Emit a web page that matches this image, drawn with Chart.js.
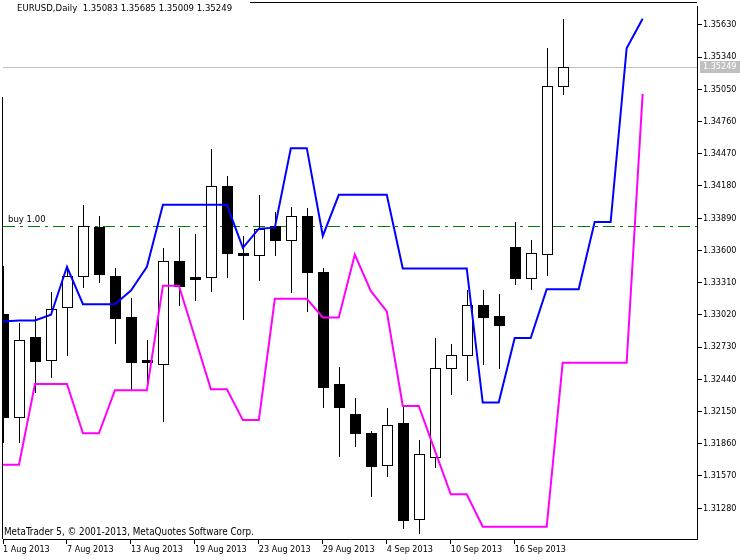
<!DOCTYPE html>
<html>
<head>
<meta charset="utf-8">
<script src="https://cdn.jsdelivr.net/npm/chart.js@4.4.0/dist/chart.umd.min.js"></script>
<style>
  html, body { margin: 0; padding: 0; background: #fff; }
  #wrap { width: 750px; height: 560px; }
</style>
</head>
<body>
<div id="wrap"><canvas id="chart" width="750" height="560"></canvas></div>
<script>
// EURUSD daily bars, 1 Aug - 19 Sep 2013
var dates = ['1 Aug 2013','2 Aug 2013','5 Aug 2013','6 Aug 2013','7 Aug 2013','8 Aug 2013','9 Aug 2013',
  '12 Aug 2013','13 Aug 2013','14 Aug 2013','15 Aug 2013','16 Aug 2013','19 Aug 2013','20 Aug 2013',
  '21 Aug 2013','22 Aug 2013','23 Aug 2013','26 Aug 2013','27 Aug 2013','28 Aug 2013','29 Aug 2013',
  '30 Aug 2013','2 Sep 2013','3 Sep 2013','4 Sep 2013','5 Sep 2013','6 Sep 2013','9 Sep 2013',
  '10 Sep 2013','11 Sep 2013','12 Sep 2013','13 Sep 2013','16 Sep 2013','17 Sep 2013','18 Sep 2013','19 Sep 2013'];

var open  = [1.33024, 1.32097, 1.32818, 1.32617, 1.33087, 1.33370, 1.33811, 1.33373, 1.32997, 1.32613,
             1.32574, 1.33504, 1.33364, 1.33358, 1.34178, 1.33574, 1.33558, 1.33820, 1.33697, 1.33909,
             1.33409, 1.32395, 1.32127, 1.31960, 1.31671, 1.32047, 1.31185, 1.31745, 1.32538, 1.32655,
             1.33111, 1.33006, 1.33632, 1.33349, 1.33572, 1.35083];
var high  = [1.33460, 1.32946, 1.33006, 1.33230, 1.33462, 1.34010, 1.33909, 1.33444, 1.33176, 1.32798,
             1.33623, 1.33802, 1.33751, 1.34517, 1.34273, 1.33730, 1.34100, 1.33945, 1.33990, 1.33981,
             1.33438, 1.32550, 1.32273, 1.31978, 1.32183, 1.32192, 1.31897, 1.32809, 1.32762, 1.33245,
             1.33245, 1.33209, 1.33856, 1.33695, 1.35420, 1.35685];
var low   = [1.31880, 1.31879, 1.32327, 1.32461, 1.32655, 1.33274, 1.33319, 1.32767, 1.32344, 1.32395,
             1.32061, 1.33113, 1.33155, 1.33236, 1.33358, 1.32986, 1.33334, 1.33563, 1.33230, 1.33051,
             1.32195, 1.31748, 1.31837, 1.31390, 1.31569, 1.31104, 1.31054, 1.31650, 1.32306, 1.32434,
             1.32580, 1.32544, 1.33295, 1.33250, 1.33375, 1.35009];
var close = [1.32097, 1.32798, 1.32604, 1.33075, 1.33370, 1.33817, 1.33384, 1.32991, 1.32597, 1.32595,
             1.33504, 1.33281, 1.33346, 1.34178, 1.33581, 1.33561, 1.33796, 1.33697, 1.33907, 1.33402,
             1.32374, 1.32195, 1.31954, 1.31659, 1.32029, 1.31176, 1.31769, 1.32538, 1.32655, 1.33111,
             1.33000, 1.32928, 1.33349, 1.33578, 1.35080, 1.35249];

// channel indicator, shifted 5 bars forward
var upper = [1.32961, 1.32970, 1.32970, 1.33021, 1.33453, 1.33116, 1.33116, 1.33116, 1.33239, 1.33453,
             1.34010, 1.34010, 1.34010, 1.34010, 1.34010, 1.33623, 1.33796, 1.33805, 1.34520, 1.34520,
             1.33730, 1.34100, 1.34100, 1.34100, 1.34100, 1.33438, 1.33438, 1.33438, 1.33438, 1.33438,
             1.32231, 1.32231, 1.32812, 1.32812, 1.33250, 1.33250, 1.33250, 1.33856, 1.33856, 1.35420, 1.35685];
var lower = [1.31671, 1.31671, 1.32398, 1.32398, 1.32398, 1.31954, 1.31954, 1.32342, 1.32342, 1.32342,
             1.33283, 1.33283, 1.32818, 1.32351, 1.32351, 1.32073, 1.32073, 1.33164, 1.33164, 1.33164,
             1.32997, 1.32997, 1.33563, 1.33236, 1.33051, 1.32201, 1.32201, 1.31803, 1.31406, 1.31406,
             1.31113, 1.31113, 1.31113, 1.31113, 1.31113, 1.32589, 1.32589, 1.32589, 1.32589, 1.32589, 1.35009];

var yTicks = [1.31280, 1.31570, 1.31860, 1.32150, 1.32440, 1.32730, 1.33020, 1.33310,
              1.33600, 1.33890, 1.34180, 1.34470, 1.34760, 1.35050, 1.35340, 1.35630];
var buyPrice = 1.33820;
var lastPrice = 1.35249;

var FONT = '"DejaVu Sans Condensed", "DejaVu Sans", sans-serif';
var FSIZE = 9;

function toPoints(arr){
  return arr.map(function(v, i){ return {x: i, y: v}; });
}

// candles, price levels and the MT5 frame
var mt5Plugin = {
  id: 'mt5',
  beforeDatasetsDraw: function(chart){
    var ctx = chart.ctx, a = chart.chartArea;
    var xs = chart.scales.x, ys = chart.scales.y;
    ctx.save();
    ctx.beginPath();
    ctx.rect(a.left, a.top, a.right - a.left, a.bottom - a.top);
    ctx.clip();

    // last price line
    var yl = Math.round(ys.getPixelForValue(lastPrice)) + 0.5;
    ctx.strokeStyle = '#c0c0c0';
    ctx.lineWidth = 1;
    ctx.beginPath(); ctx.moveTo(a.left, yl); ctx.lineTo(a.right, yl); ctx.stroke();

    // buy level
    var yb = Math.round(ys.getPixelForValue(buyPrice)) + 0.5;
    ctx.strokeStyle = '#008000';
    ctx.setLineDash([12, 5, 3, 5]);
    ctx.beginPath(); ctx.moveTo(a.left, yb); ctx.lineTo(a.right, yb); ctx.stroke();
    ctx.setLineDash([]);

    for(var i = 0; i < open.length; i++){
      var cx = Math.round(xs.getPixelForValue(i));
      var yo = Math.round(ys.getPixelForValue(open[i]));
      var yc = Math.round(ys.getPixelForValue(close[i]));
      var yh = Math.round(ys.getPixelForValue(high[i]));
      var ylo = Math.round(ys.getPixelForValue(low[i]));
      var top = Math.min(yo, yc), bot = Math.max(yo, yc);
      ctx.fillStyle = '#000';
      ctx.fillRect(cx, yh, 1, ylo - yh + 1);
      if(close[i] < open[i]){
        ctx.fillRect(cx - 5, top, 11, bot - top + 1);
      } else {
        ctx.fillStyle = '#fff';
        ctx.fillRect(cx - 5, top, 11, bot - top + 1);
        ctx.strokeStyle = '#000';
        ctx.strokeRect(cx - 4.5, top + 0.5, 10, bot - top);
      }
    }
    ctx.restore();
  },
  afterDraw: function(chart){
    var ctx = chart.ctx, a = chart.chartArea, ys = chart.scales.y;
    ctx.save();
    // frame (left and top)
    ctx.strokeStyle = '#000';
    ctx.lineWidth = 1;
    ctx.beginPath();
    ctx.moveTo(2.5, 97); ctx.lineTo(2.5, a.bottom);
    ctx.moveTo(250, 2.5); ctx.lineTo(a.right, 2.5);
    ctx.stroke();

    ctx.fillStyle = '#000';
    ctx.font = '9.5px ' + FONT;
    ctx.textBaseline = 'middle';
    ctx.textAlign = 'left';
    ctx.fillText('EURUSD,Daily  1.35083 1.35685 1.35009 1.35249', 17, 9);
    ctx.fillText('buy 1.00', 8, Math.round(ys.getPixelForValue(buyPrice)) - 6);
    ctx.font = '9.8px ' + FONT;
    ctx.fillText('MetaTrader 5, \u00a9 2001-2013, MetaQuotes Software Corp.', 4, 532);

    // last price tag on the axis
    var yl = Math.round(ys.getPixelForValue(lastPrice));
    ctx.font = FSIZE + 'px ' + FONT;
    ctx.fillStyle = '#c0c0c0';
    ctx.fillRect(700, yl - 6, 40, 12);
    ctx.fillStyle = '#fff';
    ctx.fillText(lastPrice.toFixed(5), 703, yl);
    ctx.restore();
  }
};

var ctx = document.getElementById('chart').getContext('2d');
new Chart(ctx, {
  type: 'line',
  data: {
    datasets: [{
      data: toPoints(upper),
      borderColor: '#0000ff',
      borderWidth: 2,
      pointRadius: 0,
      tension: 0,
      fill: false
    }, {
      data: toPoints(lower),
      borderColor: '#ff00ff',
      borderWidth: 2,
      pointRadius: 0,
      tension: 0,
      fill: false
    }]
  },
  options: {
    responsive: false,
    animation: false,
    devicePixelRatio: 1,
    layout: { padding: { left: 3, top: 3, right: 0, bottom: 0 } },
    plugins: { legend: { display: false }, tooltip: { enabled: false } },
    scales: {
      x: {
        type: 'linear',
        min: 0,
        max: 43.4,
        afterBuildTicks: function(axis){
          axis.ticks = dates.map(function(d, i){ return i; })
            .filter(function(i){ return i % 4 === 0; })
            .map(function(i){ return {value: i}; });
        },
        afterFit: function(axis){ axis.height = 21; },
        grid: { drawOnChartArea: false, tickLength: 5, color: '#000' },
        border: { color: '#000' },
        ticks: {
          autoSkip: false,
          maxRotation: 0,
          align: 'start',
          padding: 0,
          color: '#000',
          font: { family: FONT, size: FSIZE },
          callback: function(v){ return dates[v]; }
        }
      },
      y: {
        position: 'right',
        min: 1.31003,
        max: 1.35796,
        afterBuildTicks: function(axis){
          axis.ticks = yTicks.map(function(v){ return {value: v}; });
        },
        afterFit: function(axis){ axis.width = 53; },
        grid: { drawOnChartArea: false, tickLength: 5, color: '#000' },
        border: { color: '#000' },
        ticks: {
          padding: 1,
          color: '#000',
          font: { family: FONT, size: FSIZE },
          callback: function(v){ return v.toFixed(5); }
        }
      }
    }
  },
  plugins: [mt5Plugin]
});
</script>
</body>
</html>
